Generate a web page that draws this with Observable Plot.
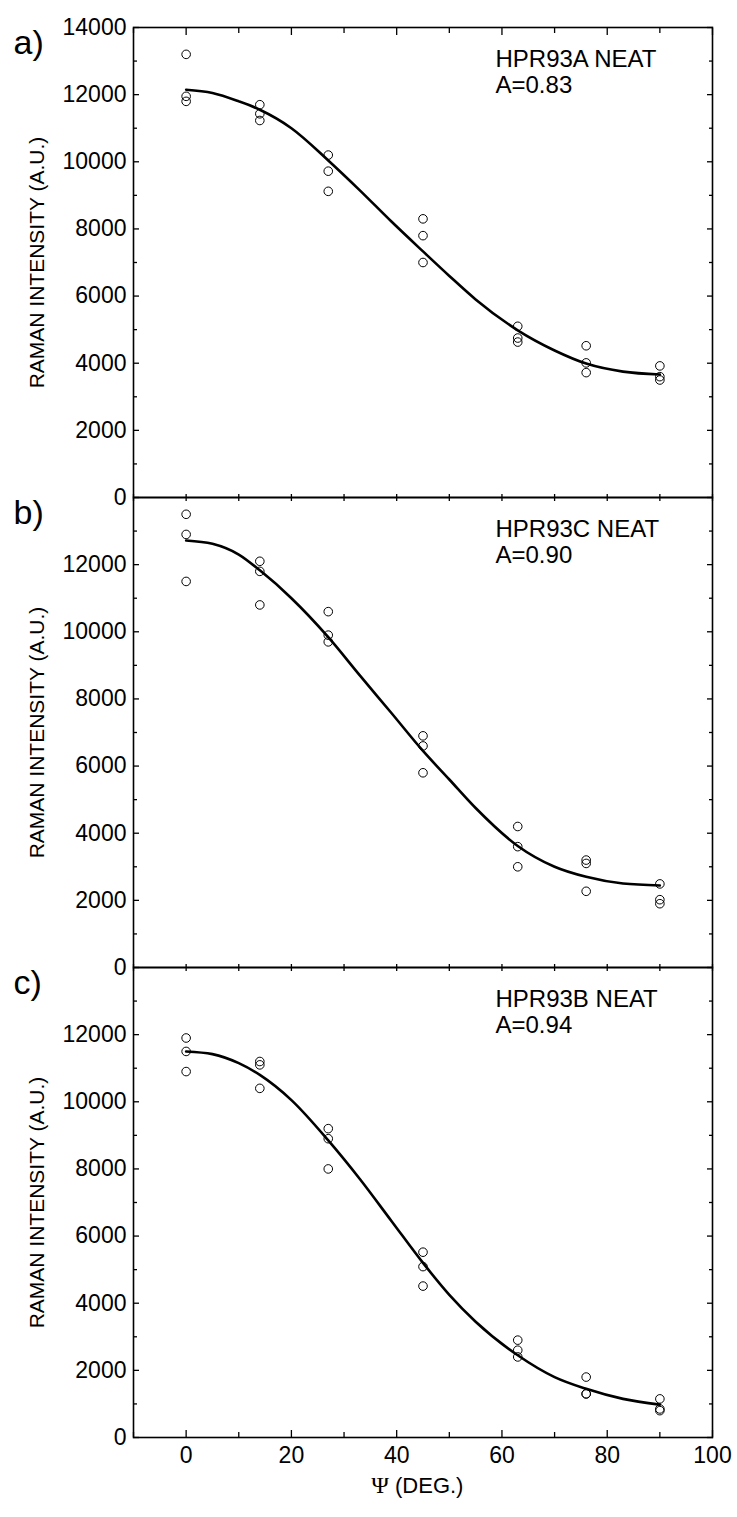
<!DOCTYPE html>
<html><head><meta charset="utf-8">
<script src="https://cdn.jsdelivr.net/npm/d3@7"></script>
<script src="https://cdn.jsdelivr.net/npm/@observablehq/plot@0.6"></script>
<style>
body{margin:0;background:#fff}
#chart svg{display:block}
#chart > *{display:block}
</style>
</head><body><div id="chart"></div>
<script>
const panelLabels = ["a)", "b)", "c)"];
const sampleNames = ["HPR93A NEAT", "HPR93C NEAT", "HPR93B NEAT"];
const anisotropy = ["A=0.83", "A=0.90", "A=0.94"];
const psiAngles = [0,0,0, 14,14,14, 27,27,27, 45,45,45, 63,63,63, 76,76,76, 90,90,90];
const intensityA = [13200,11950,11800, 11700,11430,11230, 10200,9720,9120, 8300,7800,7000, 5100,4750,4630, 4520,4010,3720, 3920,3600,3500];
const intensityB = [13500,12900,11500, 12100,11800,10800, 10600,9900,9700, 6900,6600,5800, 4200,3600,3000, 3200,3100,2270, 2490,2020,1900];
const intensityC = [11900,11500,10900, 11200,11100,10400, 9200,8900,8000, 5520,5090,4510, 2900,2600,2400, 1800,1300,1300, 1150,850,800];
const fitPsi = [0,5,10,14,20,27,33,39,45,50,55,63,70,76,83,90];
const fitA = [12145,12050,11800,11550,11000,10040,9150,8220,7330,6600,5900,4980,4380,3990,3750,3664];
const fitB = [12720,12620,12300,11830,11000,9840,8700,7580,6450,5600,4750,3620,3000,2700,2500,2443];
const fitC = [11500,11420,11150,10800,10050,8850,7700,6450,5200,4250,3450,2450,1800,1450,1150,980];
const xTickLabels = [0,20,40,60,80,100];
const xMinorTicks = [-10,10,30,50,70,90];
const yTicksA = [0,2000,4000,6000,8000,10000,12000,14000];
const yTicksBC = [0,2000,4000,6000,8000,10000,12000];
const yMinorTicks = [1000,3000,5000,7000,9000,11000,13000];
const yTitle = "RAMAN INTENSITY (A.U.)";

const series = [intensityA, intensityB, intensityC];
const fits = [fitA, fitB, fitC];
const FONT = "Arial, 'Liberation Sans', sans-serif";

function panel(i) {
  const first = i === 0, last = i === 2;
  const pts = psiAngles.map((p, j) => ({psi: p, v: series[i][j]}));
  const fit = fitPsi.map((p, j) => ({psi: p, v: fits[i][j]}));
  const marginTop = first ? 27 : 0;
  const marginBottom = last ? 80 : 0;
  const none = () => "";
  const marks = [
    Plot.frame({stroke: "black", strokeWidth: 1.6}),
    Plot.axisY(first ? yTicksA : yTicksBC, {anchor: "left", tickSize: -6, tickPadding: 13, tickFormat: d => String(d), fontSize: 23, strokeWidth: 1.3}),
    Plot.axisY(yMinorTicks, {anchor: "left", tickSize: -4, tickFormat: none, strokeWidth: 1.3}),
    Plot.axisY(first ? yTicksA : yTicksBC, {anchor: "right", tickSize: -6, tickFormat: none, strokeWidth: 1.3}),
    Plot.axisY(yMinorTicks, {anchor: "right", tickSize: -4, tickFormat: none, strokeWidth: 1.3}),
    Plot.axisX(xTickLabels, {anchor: "top", tickSize: first ? -7 : -3, tickFormat: none, strokeWidth: 1.3}),
    Plot.axisX(xMinorTicks, {anchor: "top", tickSize: first ? -5 : -3, tickFormat: none, strokeWidth: 1.3}),
    Plot.axisX(xTickLabels, {anchor: "bottom", tickSize: last ? -7 : -3, tickPadding: 16, tickFormat: last ? (d => String(d)) : none, fontSize: 23, strokeWidth: 1.3}),
    Plot.axisX(xMinorTicks, {anchor: "bottom", tickSize: last ? -5 : -3, tickFormat: none, strokeWidth: 1.3}),
    Plot.line(fit, {x: "psi", y: "v", curve: "monotone-x", stroke: "black", strokeWidth: 2.6}),
    Plot.dot(pts, {x: "psi", y: "v", r: 4.3, stroke: "black", strokeWidth: 1, fill: "none"}),
    Plot.text([yTitle], {text: d => d, frameAnchor: "left", textAnchor: "middle", dx: -96, rotate: -90, fontSize: 21, fill: "black"}),
    Plot.text([panelLabels[i]], {text: d => d, frameAnchor: "top-left", textAnchor: "start", lineAnchor: "top", dx: -120, dy: 2, fontSize: 34, fill: "black"}),
    Plot.text([sampleNames[i]], {text: d => d, frameAnchor: "top-left", textAnchor: "start", lineAnchor: "top", dx: 362, dy: 22, fontSize: 24, fill: "black"}),
    Plot.text([anisotropy[i]], {text: d => d, frameAnchor: "top-left", textAnchor: "start", lineAnchor: "top", dx: 362, dy: 48, fontSize: 24, fill: "black"})
  ];
  if (last) {
    marks.push(Plot.text(["Ψ"], {text: d => d, frameAnchor: "bottom", textAnchor: "end", dx: -34, dy: 55, fontSize: 24, fontFamily: "'Liberation Serif', 'DejaVu Serif', serif", fill: "black"}));
    marks.push(Plot.text(["(DEG.)"], {text: d => d, frameAnchor: "bottom", textAnchor: "start", dx: -28, dy: 55, fontSize: 22, fill: "black"}));
  }
  return Plot.plot({
    width: 737,
    height: 470 + marginTop + marginBottom,
    marginLeft: 133, marginRight: 25, marginTop, marginBottom,
    x: {domain: [-10, 100], label: null},
    y: {domain: [0, 14000], label: null},
    style: {fontFamily: FONT, fontSize: "22px", color: "black", background: "white", overflow: "visible"},
    marks
  });
}
const root = document.getElementById("chart");
for (let i = 0; i < 3; i++) root.appendChild(panel(i));
</script>
</body></html>
